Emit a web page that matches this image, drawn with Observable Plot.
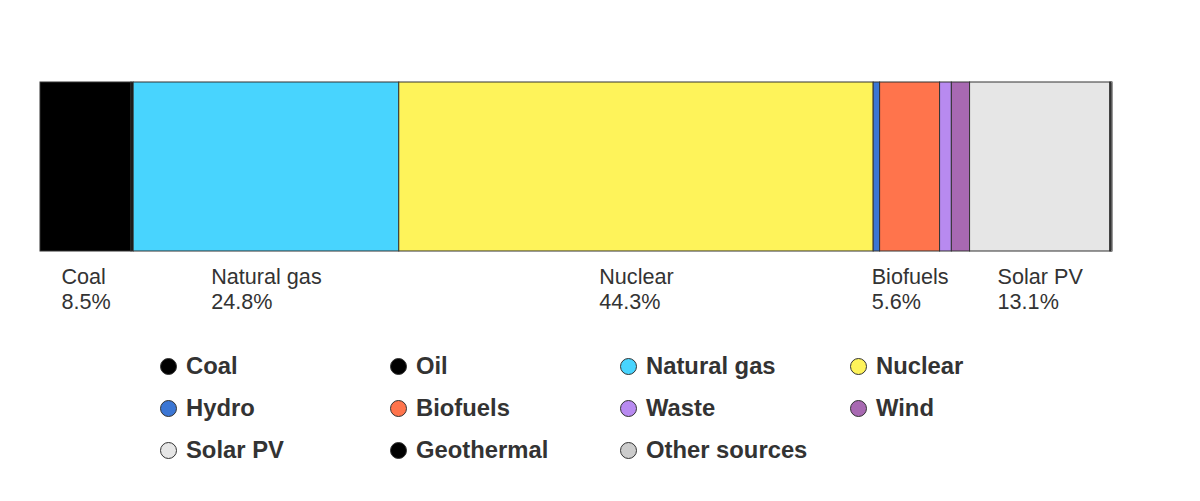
<!DOCTYPE html>
<html>
<head>
<meta charset="utf-8">
<script src="https://cdn.jsdelivr.net/npm/d3@7"></script>
<script src="https://cdn.jsdelivr.net/npm/@observablehq/plot@0.6"></script>
<style>
  html, body { margin: 0; padding: 0; background: #fff; }
  body { width: 1200px; height: 501px; overflow: hidden; font-family: "Liberation Sans", Arial, sans-serif; }
  #chart svg { display: block; }
  #legend {
    display: grid;
    grid-template-columns: repeat(4, 230px);
    grid-auto-rows: 42px;
    margin: 15px 0 0 160px;
  }
  .item { display: flex; align-items: center; font-weight: bold; font-size: 23.8px; color: #333; }
  .sw { width: 15px; height: 15px; border-radius: 50%; border: 1px solid #333; margin-right: 9px; flex: none; }
</style>
</head>
<body>
<div id="chart"></div>
<div id="legend"></div>
<script>
const sources = ["Coal", "Oil", "Natural gas", "Nuclear", "Hydro", "Biofuels", "Waste", "Wind", "Solar PV", "Geothermal", "Other sources"];
const shares  = [8.5, 0.2, 24.8, 44.3, 0.6, 5.6, 1.1, 1.7, 13.1, 0.1, 0.1];
const colors  = ["#000000", "#000000", "#48d4fe", "#fef35a", "#3b76d4", "#ff744c", "#b88af0", "#a869b2", "#e6e6e6", "#000000", "#cccccc"];
const labelThreshold = 5;

const data = sources.map((name, i) => ({name, value: shares[i]}));
const total = d3.sum(shares);

const fs = 21.6;
const font = fs + 'px "Liberation Sans", Arial, sans-serif';
const ctx = document.createElement("canvas").getContext("2d");
ctx.font = font;
const pct = v => v.toFixed(1) + "%";

// stacked midpoints for labels
const starts = d3.cumsum([0, ...shares]);
const labelled = data
  .map((d, i) => ({...d, mid: starts[i] + d.value / 2}))
  .filter(d => d.value > labelThreshold);

const labelMarks = labelled.map(d => {
  const w = Math.max(ctx.measureText(d.name).width, ctx.measureText(pct(d.value)).width);
  return Plot.text([d], {
    x: "mid",
    frameAnchor: "bottom",
    text: d => d.name + "\n" + pct(d.value),
    textAnchor: "start",
    lineAnchor: "top",
    lineHeight: 1.16,
    dx: -w / 2,
    dy: 15,
    fill: "#333",
    fontSize: fs
  });
});

const plot = Plot.plot({
  width: 1200,
  height: 330,
  marginTop: 82,
  marginBottom: 79,
  marginLeft: 40,
  marginRight: 88,
  style: {fontFamily: '"Liberation Sans", Arial, sans-serif', background: "#fff"},
  x: {domain: [0, total], axis: null},
  color: {domain: sources, range: colors},
  marks: [
    Plot.barX(data, Plot.stackX({x: "value", fill: "name", stroke: "#333", strokeWidth: 1, order: null})),
    ...labelMarks
  ]
});
document.getElementById("chart").appendChild(plot);

const legend = document.getElementById("legend");
sources.forEach((s, i) => {
  const item = document.createElement("div");
  item.className = "item";
  const sw = document.createElement("span");
  sw.className = "sw";
  sw.style.background = colors[i];
  item.appendChild(sw);
  item.appendChild(document.createTextNode(s));
  legend.appendChild(item);
});
</script>
</body>
</html>
